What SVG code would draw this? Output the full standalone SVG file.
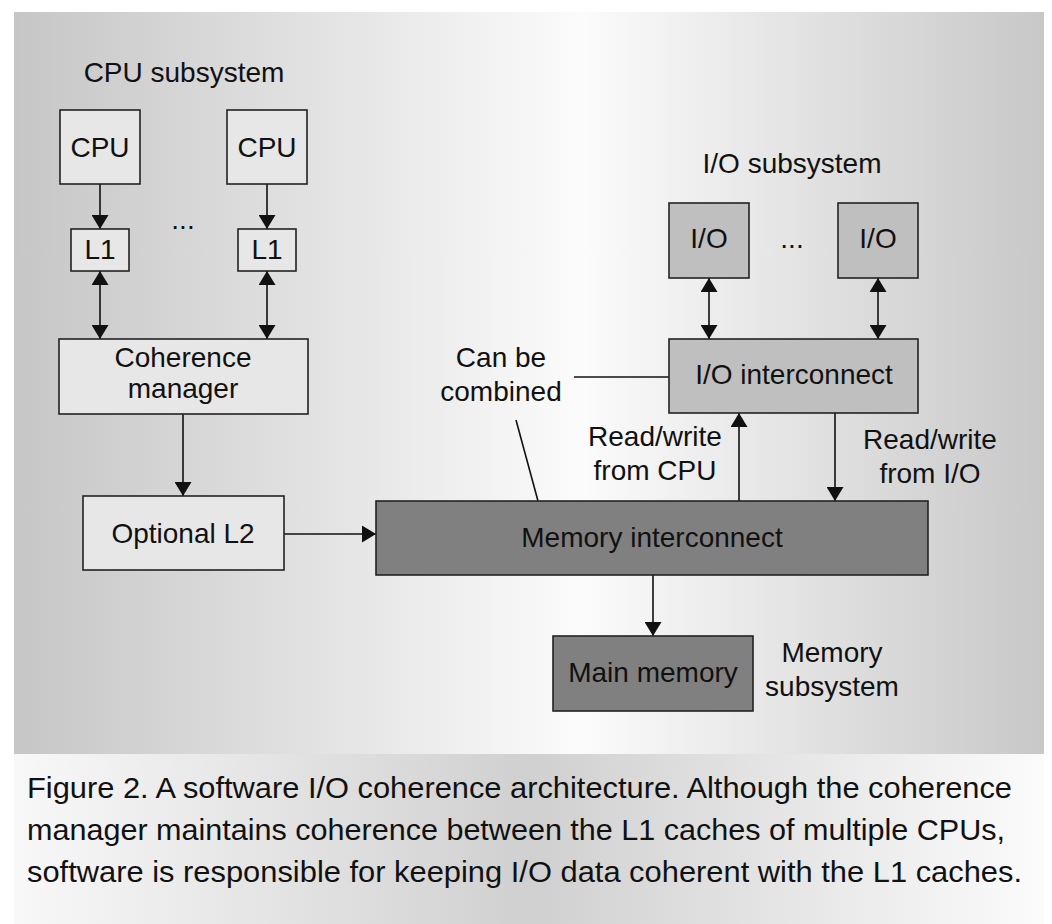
<svg xmlns="http://www.w3.org/2000/svg" width="1052" height="924" viewBox="0 0 1052 924">
<defs>
<linearGradient id="panel" x1="0" y1="0" x2="1" y2="0">
<stop offset="0" stop-color="#c6c6c6"/>
<stop offset="0.55" stop-color="#fbfbfb"/>
<stop offset="1" stop-color="#c8c8c8"/>
</linearGradient>
<linearGradient id="cap" x1="0" y1="0" x2="1" y2="0">
<stop offset="0" stop-color="#f8f8f8"/>
<stop offset="0.5" stop-color="#d0d0d0"/>
<stop offset="1" stop-color="#fbfbfb"/>
</linearGradient>
<marker id="ah" viewBox="0 0 14 17" refX="14" refY="8.5" markerWidth="14" markerHeight="17" markerUnits="userSpaceOnUse" orient="auto-start-reverse">
<path d="M0,0 L14,8.5 L0,17 Z" fill="#111"/>
</marker>
<style>
.t{font-family:"Liberation Sans",Arial,Helvetica,sans-serif;font-size:28px;fill:#111;text-anchor:middle}
.c{font-family:"Liberation Sans",Arial,Helvetica,sans-serif;font-size:30px;fill:#111}
.lt{fill:#e7e7e7;stroke:#222;stroke-width:1.6}
.md{fill:#bfbfbf;stroke:#222;stroke-width:1.6}
.dk{fill:#808080;stroke:#222;stroke-width:1.6}
.ln{fill:none;stroke:#111;stroke-width:1.6}
.a1{marker-end:url(#ah)}
.a2{marker-start:url(#ah);marker-end:url(#ah)}
</style>
</defs>
<rect x="0" y="0" width="1052" height="924" fill="#ffffff"/>
<rect x="14" y="12" width="1030" height="742" fill="url(#panel)"/>
<rect x="14" y="754" width="1030" height="170" fill="url(#cap)"/>

<g id="labels">
<text class="t" x="184" y="82">CPU subsystem</text>
<text class="t" x="183" y="229">...</text>
<text class="t" x="792" y="173">I/O subsystem</text>
<text class="t" x="792" y="248">...</text>
<text class="t" x="501" y="367">Can be</text>
<text class="t" x="501" y="401">combined</text>
<text class="t" x="655" y="446">Read/write</text>
<text class="t" x="655" y="480">from CPU</text>
<text class="t" x="930" y="449">Read/write</text>
<text class="t" x="930" y="483">from I/O</text>
<text class="t" x="832" y="662">Memory</text>
<text class="t" x="832" y="696">subsystem</text>
</g>

<g id="connectors">
<line class="ln a1" x1="100" y1="184" x2="100" y2="229"/>
<line class="ln a1" x1="267" y1="184" x2="267" y2="229"/>
<line class="ln a2" x1="100" y1="271" x2="100" y2="339"/>
<line class="ln a2" x1="267" y1="271" x2="267" y2="339"/>
<line class="ln a1" x1="183" y1="414" x2="183" y2="496"/>
<line class="ln a1" x1="284" y1="534" x2="376" y2="534"/>
<line class="ln a2" x1="709" y1="278" x2="709" y2="339"/>
<line class="ln a2" x1="878" y1="278" x2="878" y2="339"/>
<line class="ln a1" x1="739" y1="501" x2="739" y2="413"/>
<line class="ln a1" x1="835" y1="413" x2="835" y2="501"/>
<line class="ln a1" x1="653" y1="575" x2="653" y2="636"/>
<line class="ln" x1="574" y1="377" x2="669" y2="377"/>
<line class="ln" x1="516" y1="420" x2="538" y2="501"/>
</g>

<g id="cpu1"><rect class="lt" x="60" y="110" width="80" height="74"/><text class="t" x="100" y="157">CPU</text></g>
<g id="cpu2"><rect class="lt" x="227" y="110" width="80" height="74"/><text class="t" x="267" y="157">CPU</text></g>
<g id="l1a"><rect class="lt" x="71" y="229" width="58" height="42"/><text class="t" x="100" y="259">L1</text></g>
<g id="l1b"><rect class="lt" x="238" y="229" width="58" height="42"/><text class="t" x="267" y="259">L1</text></g>
<g id="coherence"><rect class="lt" x="59" y="339" width="249" height="75"/><text class="t" x="183" y="367">Coherence</text><text class="t" x="183" y="398">manager</text></g>
<g id="l2"><rect class="lt" x="83" y="496" width="201" height="74"/><text class="t" x="183" y="543">Optional L2</text></g>
<g id="io1"><rect class="md" x="669" y="203" width="80" height="75"/><text class="t" x="709" y="248">I/O</text></g>
<g id="io2"><rect class="md" x="838" y="203" width="80" height="75"/><text class="t" x="878" y="248">I/O</text></g>
<g id="iointerconnect"><rect class="md" x="669" y="339" width="249" height="74"/><text class="t" x="794" y="384">I/O interconnect</text></g>
<g id="meminterconnect"><rect class="dk" x="376" y="501" width="552" height="74"/><text class="t" x="652" y="547">Memory interconnect</text></g>
<g id="mainmemory"><rect class="dk" x="553" y="636" width="200" height="75"/><text class="t" x="653" y="682">Main memory</text></g>

<g id="caption">
<text class="c" x="27" y="798" textLength="985" lengthAdjust="spacingAndGlyphs">Figure 2. A software I/O coherence architecture. Although the coherence</text>
<text class="c" x="27" y="840" textLength="978" lengthAdjust="spacingAndGlyphs">manager maintains coherence between the L1 caches of multiple CPUs,</text>
<text class="c" x="27" y="882" textLength="995" lengthAdjust="spacingAndGlyphs">software is responsible for keeping I/O data coherent with the L1 caches.</text>
</g>
</svg>
